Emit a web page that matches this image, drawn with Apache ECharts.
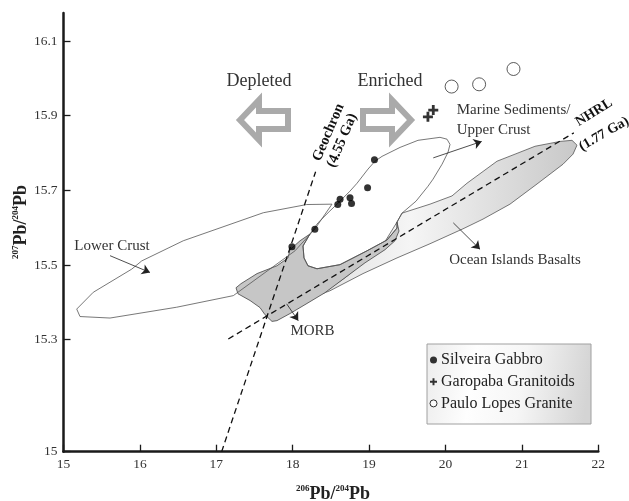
<!DOCTYPE html>
<html><head><meta charset="utf-8">
<script src="https://cdn.jsdelivr.net/npm/echarts@6/dist/echarts.min.js"></script>
<style>html,body{margin:0;padding:0;background:#fff}#c{width:629px;height:501px}</style>
</head><body><div id="c"></div>
<script>
// ---- data ----
const xMin = 15, xMax = 22, xInterval = 1;
const yMin = 15, yMax = 16.175;
const yTicks = [15, 15.3, 15.5, 15.7, 15.9, 16.1];
const yTickLabels = ['15', '15.3', '15.5', '15.7', '15.9', '16.1'];

const silveiraGabbro = [[19.07,15.782],[18.98,15.707],[18.62,15.676],[18.75,15.680],[18.77,15.665],[18.59,15.662],[18.29,15.596],[17.99,15.549]];
const garopabaGranitoids = [[19.77,15.897],[19.84,15.915]];
const pauloLopesGranite = [[20.08,15.978],[20.44,15.984],[20.89,16.025]];

const geochron = [[17.07,15.0],[18.30,15.75]];
const nhrl = [[17.157,15.302],[21.68,15.854]];

const lowerCrust = [[15.173,15.382],[15.390,15.427],[15.893,15.489],[16.024,15.511],[16.568,15.565],[17.615,15.640],[18.183,15.662],[18.514,15.663],[18.292,15.597],[18.030,15.538],[17.310,15.431],[17.223,15.418],[16.482,15.387],[15.609,15.358],[15.216,15.362]];
const upperCrust = [[18.226,15.583],[18.331,15.613],[18.488,15.645],[18.580,15.663],[18.750,15.698],[18.842,15.719],[18.986,15.757],[19.077,15.778],[19.169,15.791],[19.405,15.815],[19.640,15.834],[19.928,15.842],[20.020,15.837],[20.059,15.823],[20.033,15.802],[19.955,15.770],[19.837,15.730],[19.771,15.711],[19.614,15.671],[19.431,15.639],[19.365,15.615],[19.365,15.599],[19.234,15.567],[18.972,15.538],[18.619,15.501],[18.318,15.490],[18.200,15.498],[18.148,15.519],[18.135,15.551]];
const morb = [[17.258,15.439],[17.323,15.450],[17.533,15.477],[17.794,15.498],[17.938,15.519],[17.965,15.541],[18.096,15.565],[18.226,15.583],[18.135,15.551],[18.148,15.519],[18.200,15.498],[18.318,15.490],[18.619,15.501],[18.972,15.538],[19.234,15.567],[19.365,15.599],[19.365,15.615],[19.391,15.591],[19.339,15.565],[19.208,15.541],[18.947,15.506],[18.685,15.466],[18.423,15.426],[18.187,15.397],[17.965,15.370],[17.794,15.351],[17.729,15.349],[17.637,15.367],[17.572,15.386],[17.441,15.405],[17.284,15.423]];
const oib = [[18.384,15.423],[18.488,15.431],[18.920,15.477],[19.365,15.519],[19.797,15.557],[20.229,15.597],[20.491,15.623],[20.844,15.663],[21.198,15.717],[21.538,15.770],[21.669,15.797],[21.721,15.821],[21.656,15.834],[21.499,15.831],[21.171,15.818],[20.936,15.799],[20.674,15.778],[20.281,15.719],[20.085,15.685],[19.797,15.663],[19.431,15.639],[19.365,15.615],[19.143,15.541],[18.685,15.466]];

const pointerArrows = [
  [[15.609,15.525],[16.132,15.480]],
  [[19.840,15.787],[20.474,15.831]],
  [[17.921,15.396],[18.073,15.351]],
  [[20.102,15.613],[20.452,15.542]]
];

const SERIF = '"Liberation Serif","Times New Roman",serif';
const chart = echarts.init(document.getElementById('c'));

function polySeries(name, pts, style, z) {
  return {
    type: 'custom', name: name, z: z, silent: true, clip: true,
    coordinateSystem: 'cartesian2d', data: [pts[0]],
    renderItem: function (params, api) {
      return { type: 'polygon', shape: { points: pts.map(function (p) { return api.coord(p); }) }, style: style };
    }
  };
}
const plusPath = 'path://M3.6,0h2.8v3.6h3.6v2.8h-3.6v3.6h-2.8v-3.6h-3.6v-2.8h3.6z';

const option = {
  animation: false,
  backgroundColor: '#fff',
  grid: { left: 63.5, right: 30.7, top: 13, bottom: 49.3 },
  xAxis: {
    type: 'value', min: xMin, max: xMax, interval: xInterval,
    axisLine: { lineStyle: { color: '#1a1a1a', width: 2.5 } },
    axisTick: { inside: true, length: 7, lineStyle: { color: '#1a1a1a', width: 1.3 } },
    axisLabel: { color: '#333', fontFamily: SERIF, fontSize: 13.5, margin: 6 },
    splitLine: { show: false }
  },
  yAxis: {
    type: 'value', min: yMin, max: yMax,
    axisLine: { onZero: false, lineStyle: { color: '#1a1a1a', width: 2.5 } },
    axisTick: { inside: true, length: 7, customValues: yTicks, lineStyle: { color: '#1a1a1a', width: 1.3 } },
    axisLabel: {
      color: '#333', fontFamily: SERIF, fontSize: 13.5, margin: 6, customValues: yTicks,
      formatter: function (v) {
        const i = yTicks.findIndex(function (t) { return Math.abs(t - v) < 1e-6; });
        return i >= 0 ? yTickLabels[i] : '';
      }
    },
    splitLine: { show: false }
  },
  legend: {
    orient: 'vertical', left: 429.5, top: 351, itemWidth: 7, itemHeight: 7, itemGap: 3.7,
    padding: 0, selectedMode: false,
    textStyle: { fontFamily: SERIF, fontSize: 16, color: '#222', lineHeight: 18, padding: [0, 0, 0, -1] },
    data: [
      { name: 'Silveira Gabbro', icon: 'circle' },
      { name: 'Garopaba Granitoids', icon: plusPath },
      { name: 'Paulo Lopes Granite', icon: 'circle', itemStyle: { color: '#fff', borderColor: '#000', borderWidth: 1 } }
    ]
  },
  series: [
    polySeries('OIB', oib, {
      fill: new echarts.graphic.LinearGradient(0, 0, 1, 0, [
        { offset: 0, color: '#e2e2e2' }, { offset: 0.35, color: '#f5f5f5' }, { offset: 1, color: '#c8c8c8' }]),
      stroke: '#555', lineWidth: 0.8
    }, 1),
    polySeries('MORB', morb, { fill: '#c6c6c6', stroke: '#444', lineWidth: 0.8 }, 2),
    polySeries('Lower Crust', lowerCrust, { fill: 'none', stroke: '#555', lineWidth: 0.8 }, 3),
    polySeries('Upper Crust', upperCrust, { fill: 'none', stroke: '#555', lineWidth: 0.8 }, 3),
    {
      type: 'line', name: 'Geochron', data: geochron, z: 4, symbol: 'none', silent: true,
      lineStyle: { color: '#111', width: 1.3, type: [6, 4] }
    },
    {
      type: 'line', name: 'NHRL', data: nhrl, z: 4, symbol: 'none', silent: true,
      lineStyle: { color: '#111', width: 1.3, type: [6, 4] }
    },
    {
      type: 'scatter', name: 'pointers', data: [], z: 5, silent: true,
      markLine: {
        silent: true, symbol: ['none', 'arrow'], symbolSize: 8, animation: false,
        lineStyle: { color: '#222', width: 0.8, type: 'solid' }, label: { show: false },
        data: pointerArrows.map(function (a) { return [{ coord: a[0] }, { coord: a[1] }]; })
      }
    },
    {
      type: 'scatter', name: 'Silveira Gabbro', data: silveiraGabbro, z: 6,
      symbol: 'circle', symbolSize: 7, itemStyle: { color: '#000' }
    },
    {
      type: 'scatter', name: 'Garopaba Granitoids', data: garopabaGranitoids, z: 6,
      symbol: plusPath, symbolSize: 10, itemStyle: { color: '#000' }
    },
    {
      type: 'scatter', name: 'Paulo Lopes Granite', data: pauloLopesGranite, z: 6,
      symbol: 'circle', symbolSize: 13, itemStyle: { color: '#fff', borderColor: '#333', borderWidth: 1 }
    }
  ],
  graphic: [
    { type: 'rect', z: -1, shape: { x: 427, y: 344, width: 164, height: 80 },
      style: { fill: new echarts.graphic.LinearGradient(0, 0, 1, 0.3, [
        { offset: 0, color: '#ececec' }, { offset: 0.3, color: '#fefefe' }, { offset: 0.6, color: '#f6f6f6' }, { offset: 1, color: '#d4d4d4' }]),
        stroke: '#a0a0a0', lineWidth: 1 } },
    { type: 'polygon', shape: { points: [[240,120],[259,100],[259,111],[288,111],[288,129],[259,129],[259,140]] },
      style: { fill: '#fff', stroke: '#aaaaaa', lineWidth: 6, lineJoin: 'miter' } },
    { type: 'polygon', shape: { points: [[411,120],[392,100],[392,111],[363,111],[363,129],[392,129],[392,140]] },
      style: { fill: '#fff', stroke: '#aaaaaa', lineWidth: 6, lineJoin: 'miter' } },
    { type: 'text', x: 259, y: 81, style: { text: 'Depleted', font: '18px ' + SERIF, fill: '#333', textAlign: 'center', textVerticalAlign: 'middle' } },
    { type: 'text', x: 390, y: 81, style: { text: 'Enriched', font: '18px ' + SERIF, fill: '#333', textAlign: 'center', textVerticalAlign: 'middle' } },
    { type: 'text', x: 456.7, y: 110, style: { text: 'Marine Sediments/', font: '15px ' + SERIF, fill: '#333', textAlign: 'left', textVerticalAlign: 'middle' } },
    { type: 'text', x: 456.7, y: 130, style: { text: 'Upper Crust', font: '15px ' + SERIF, fill: '#333', textAlign: 'left', textVerticalAlign: 'middle' } },
    { type: 'text', x: 112, y: 246, style: { text: 'Lower Crust', font: '15px ' + SERIF, fill: '#333', textAlign: 'center', textVerticalAlign: 'middle' } },
    { type: 'text', x: 312.5, y: 331, style: { text: 'MORB', font: '15px ' + SERIF, fill: '#333', textAlign: 'center', textVerticalAlign: 'middle' } },
    { type: 'text', x: 515, y: 260, style: { text: 'Ocean Islands Basalts', font: '15px ' + SERIF, fill: '#333', textAlign: 'center', textVerticalAlign: 'middle' } },
    { type: 'text', x: 328.5, y: 132.5, rotation: 67 * Math.PI / 180, style: { text: 'Geochron', font: 'bold 14.5px ' + SERIF, fill: '#111', textAlign: 'center', textVerticalAlign: 'middle' } },
    { type: 'text', x: 342, y: 140.5, rotation: 67 * Math.PI / 180, style: { text: '(4.55 Ga)', font: 'bold 14.5px ' + SERIF, fill: '#111', textAlign: 'center', textVerticalAlign: 'middle' } },
    { type: 'text', x: 594, y: 112.5, rotation: 32 * Math.PI / 180, style: { text: 'NHRL', font: 'bold 14px ' + SERIF, fill: '#111', textAlign: 'center', textVerticalAlign: 'middle' } },
    { type: 'text', x: 604, y: 134, rotation: 30 * Math.PI / 180, style: { text: '(1.77 Ga)', font: 'bold 14px ' + SERIF, fill: '#111', textAlign: 'center', textVerticalAlign: 'middle' } },
    { type: 'text', x: 333, y: 494, style: {
        text: '{s|206}{b|Pb/}{s|204}{b|Pb}', textAlign: 'center', textVerticalAlign: 'middle',
        rich: { s: { fontSize: 9, fontWeight: 'bold', fontFamily: SERIF, fill: '#222', verticalAlign: 'top', lineHeight: 20 },
                b: { fontSize: 18, fontWeight: 'bold', fontFamily: SERIF, fill: '#222', lineHeight: 20 } } } },
    { type: 'text', x: 21, y: 222, rotation: Math.PI / 2, style: {
        text: '{s|207}{b|Pb/}{s|204}{b|Pb}', textAlign: 'center', textVerticalAlign: 'middle',
        rich: { s: { fontSize: 9, fontWeight: 'bold', fontFamily: SERIF, fill: '#222', verticalAlign: 'top', lineHeight: 20 },
                b: { fontSize: 18, fontWeight: 'bold', fontFamily: SERIF, fill: '#222', lineHeight: 20 } } } }
  ]
};
chart.setOption(option);
</script></body></html>
